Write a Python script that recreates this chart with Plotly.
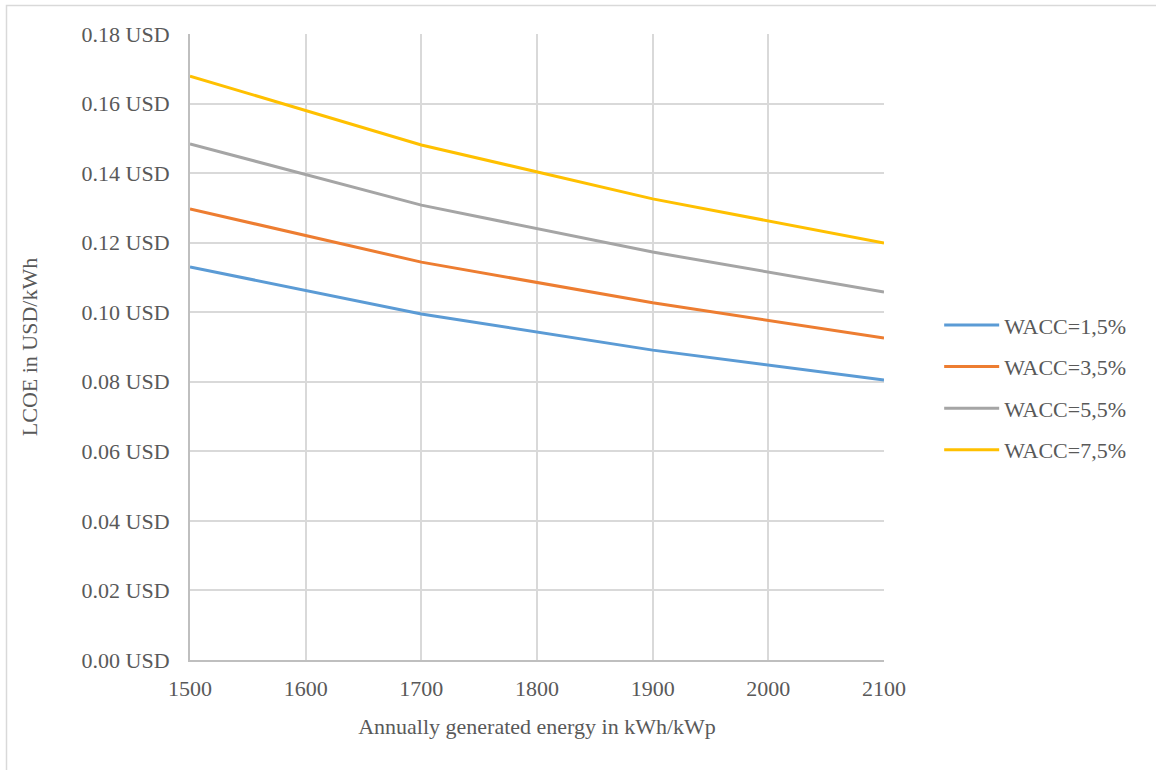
import plotly.graph_objects as go

energy = [1500, 1700, 1900, 2100]
wacc_1_5 = [0.1130, 0.0995, 0.0891, 0.0805]
wacc_3_5 = [0.1297, 0.1144, 0.1027, 0.0926]
wacc_5_5 = [0.1484, 0.1308, 0.1173, 0.1058]
wacc_7_5 = [0.1679, 0.1481, 0.1326, 0.1199]
names = ["WACC=1,5%", "WACC=3,5%", "WACC=5,5%", "WACC=7,5%"]
colors = ["#5B9BD5", "#ED7D31", "#A5A5A5", "#FFC000"]
series = [wacc_1_5, wacc_3_5, wacc_5_5, wacc_7_5]

FONT = "Liberation Serif"
TXT = "#595959"
FS = 22

fig = go.Figure()
for i, (n, c, s) in enumerate(zip(names, colors, series)):
    fig.add_trace(go.Scatter(x=energy, y=s, name=n, mode="lines",
                             line=dict(color=c, width=3), legendgroup=f"g{i}"))

W, H = 1156, 770
L, R, T, B = 190, 884, 34, 660
fig.update_layout(
    width=W, height=H,
    margin=dict(l=L, r=W - R, t=T, b=H - B, pad=0),
    paper_bgcolor="white", plot_bgcolor="white",
    font=dict(family=FONT, size=FS, color=TXT),
    showlegend=True,
    legend=dict(x=1.0795, xanchor="left", y=0.435, yanchor="middle",
                font=dict(family=FONT, size=FS, color=TXT),
                tracegroupgap=10, itemwidth=55, bgcolor="rgba(0,0,0,0)"),
    xaxis=dict(range=[1500, 2100], dtick=100, tick0=1500,
               showgrid=True, gridcolor="#D9D9D9", gridwidth=1.5,
               showline=True, linecolor="#BFBFBF", linewidth=2,
               zeroline=False, ticks="", ticklabelstandoff=8,
               title=dict(text="Annually generated energy in kWh/kWp", standoff=18,
                          font=dict(family=FONT, size=FS, color=TXT))),
    yaxis=dict(range=[0, 0.18], dtick=0.02, tickformat=".2f", ticksuffix=" USD",
               showgrid=True, gridcolor="#D9D9D9", gridwidth=1.5,
               showline=True, linecolor="#BFBFBF", linewidth=2,
               zeroline=False, ticks="", ticklabelstandoff=14,
               title=dict(text="LCOE in USD/kWh", standoff=38,
                          font=dict(family=FONT, size=FS, color=TXT))),
)

pw, ph = R - L, B - T
fig.add_shape(type="rect", xref="paper", yref="paper",
              x0=(6.5 - L) / pw, x1=(W + 20 - L) / pw,
              y0=(B - (H + 20)) / ph, y1=(B - 5.5) / ph,
              line=dict(color="#D9D9D9", width=1.5), fillcolor="rgba(0,0,0,0)", layer="below")

fig.write_html("out.html", config={"displayModeBar": False},
               post_script="document.body.style.margin='0';document.body.style.overflow='hidden';")
